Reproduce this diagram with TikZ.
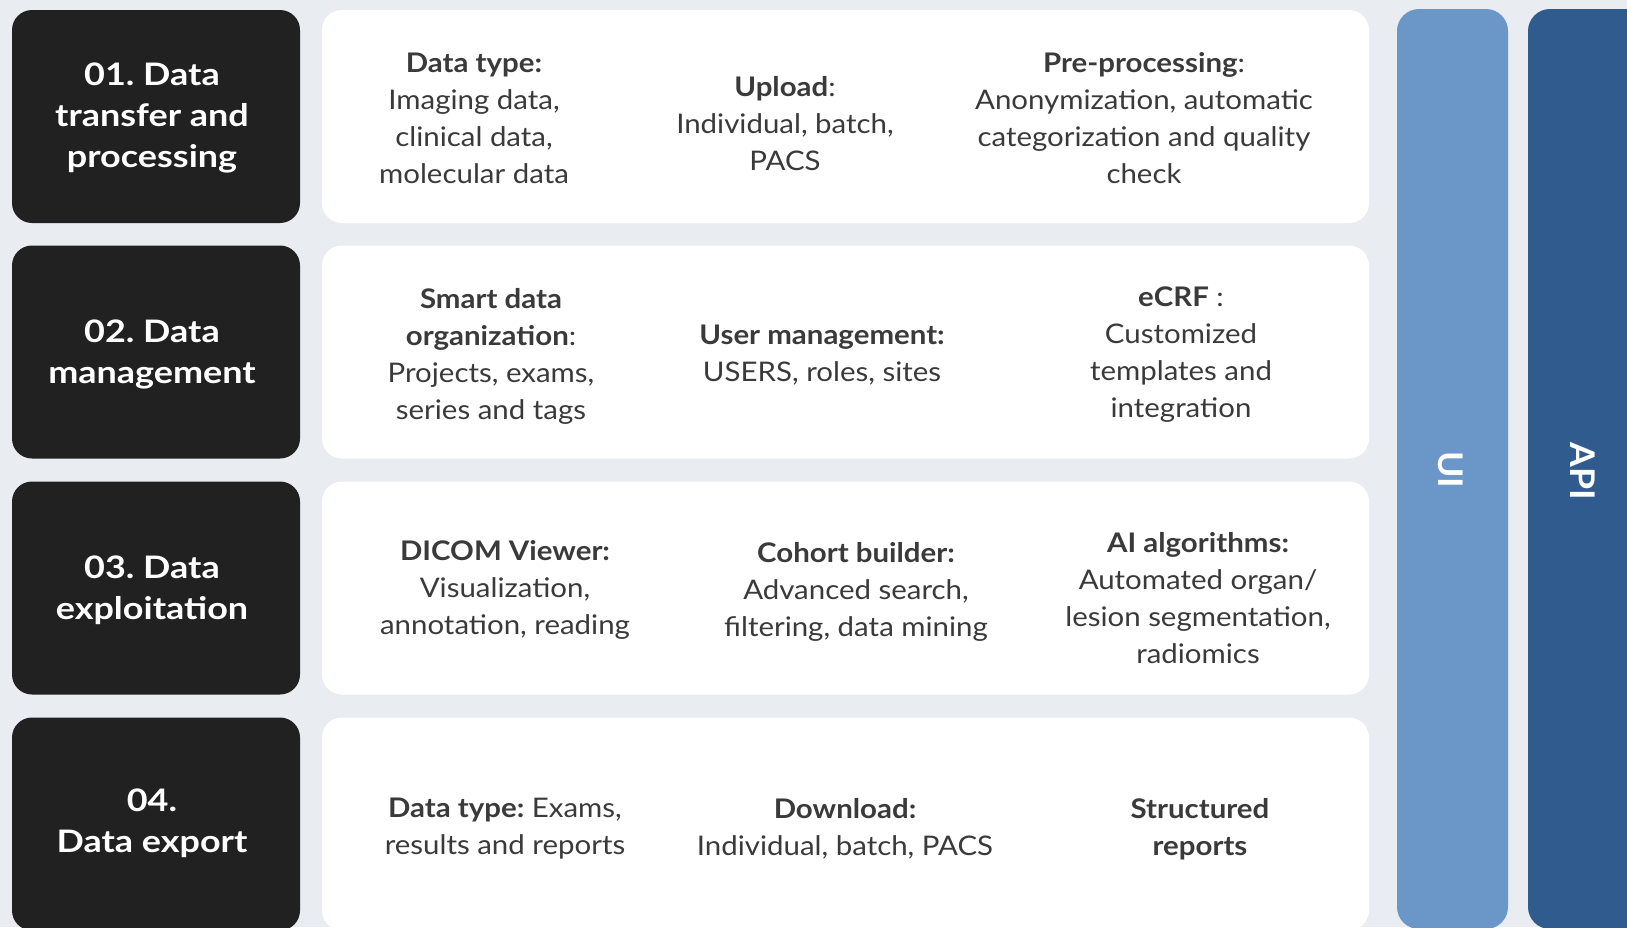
\documentclass[tikz,border=0pt]{standalone}
\usepackage{fontspec}
\setmainfont{Lato}[FakeStretch=1.09]
\newfontfamily\titlefont{Lato}[FakeStretch=1.16]
\newfontfamily\barfont{Lato}[FakeStretch=1.05]
\frenchspacing
\definecolor{bgcol}{HTML}{E9EDF2}
\definecolor{darkbox}{HTML}{212121}
\definecolor{uicol}{HTML}{6B96C8}
\definecolor{apicol}{HTML}{2F5B8E}
\definecolor{txt}{HTML}{3A3A3A}
\tikzset{
  titlebox/.style={fill=darkbox, rounded corners=20pt, minimum width=288pt, minimum height=213pt, inner sep=0pt},
  panel/.style={fill=white, rounded corners=20pt, minimum width=1047pt, minimum height=213pt, inner sep=0pt},
  titletext/.style={text=white, align=center, font=\titlefont\fontsize{31}{41}\selectfont\bfseries\frenchspacing},
  celltext/.style={text=txt, align=center, font=\fontsize{27}{37}\selectfont\frenchspacing, inner sep=0pt},
  bartext/.style={text=white, rotate=-90, font=\barfont\fontsize{34}{40}\selectfont\bfseries}
}
\begin{document}
\begin{tikzpicture}[x=1pt,y=-1pt]
\useasboundingbox (0,0) rectangle (1627,927);
\clip (0,0) rectangle (1627,927);
\fill[bgcol] (0,0) rectangle (1627,927);

% side bars
\node[fill=uicol, rounded corners=22pt, minimum width=111pt, minimum height=920pt, inner sep=0pt] (uibar) at (1452.5,469) {};
\node[fill=apicol, rounded corners=22pt, minimum width=130pt, minimum height=920pt, inner sep=0pt] (apibar) at (1593,469) {};
\node[bartext] (uilab) at (1451,470) {UI};
\node[bartext] (apilab) at (1583,471) {API};

% title boxes
\node[titlebox] (t1) at (156,116.5) {};
\node[titlebox] (t2) at (156,352) {};
\node[titlebox] (t3) at (156,588) {};
\node[titlebox] (t4) at (156,824) {};
\node[titletext] (t1l) at (152,118) {01. Data\\transfer and\\processing};
\node[titletext] (t2l) at (152,354) {02. Data\\management};
\node[titletext] (t3l) at (152,590) {03. Data\\exploitation};
\node[titletext] (t4l) at (152,823) {04.\\Data export};

% panels
\node[panel] (p1) at (845.5,116.5) {};
\node[panel] (p2) at (845.5,352) {};
\node[panel] (p3) at (845.5,588) {};
\node[panel] (p4) at (845.5,824) {};

% row 1
\node[celltext] (c11) at (474,118) {\textbf{Data type:}\\Imaging data,\\clinical data,\\molecular data};
\node[celltext] (c12) at (785,124) {\textbf{Upload}:\\Individual, batch,\\PACS};
\node[celltext] (c13) at (1144,118) {\textbf{Pre-processing}:\\Anonymization, automatic\\categorization and quality\\check};
% row 2
\node[celltext] (c21) at (491,356) {\textbf{Smart data}\\\textbf{organization}:\\Projects, exams,\\series and tags};
\node[celltext] (c22) at (822,355) {\textbf{User management:}\\USERS, roles, sites};
\node[celltext] (c23) at (1181,355) {\textbf{eCRF} :\\Customized\\templates and\\integration};
% row 3
\node[celltext] (c31) at (505,590) {\textbf{DICOM Viewer:}\\Visualization,\\annotation, reading};
\node[celltext] (c32) at (856,592) {\textbf{Cohort builder:}\\Advanced search,\\filtering, data mining};
\node[celltext] (c33) at (1198,598) {\textbf{AI algorithms:}\\Automated organ/\\lesion segmentation,\\radiomics};
% row 4
\node[celltext] (c41) at (505,829) {\textbf{Data type:} Exams,\\results and reports};
\node[celltext] (c42) at (845,829) {\textbf{Download:}\\Individual, batch, PACS};
\node[celltext] (c43) at (1200,829) {\textbf{Structured}\\\textbf{reports}};
\end{tikzpicture}
\end{document}
